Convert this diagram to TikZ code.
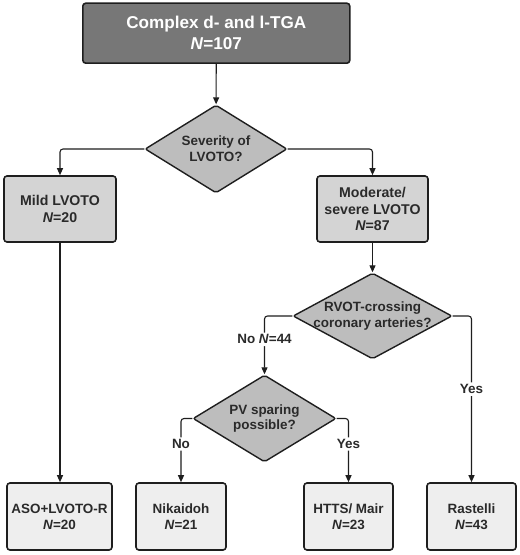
\documentclass[tikz,border=0pt]{standalone}
\usepackage{fontspec}
\setmainfont{Liberation Sans}
\usetikzlibrary{shapes.geometric,arrows.meta}
\definecolor{topfill}{HTML}{777777}
\definecolor{midfill}{HTML}{D4D4D4}
\definecolor{lowfill}{HTML}{EEEEEE}
\definecolor{diafill}{HTML}{BDBDBD}
\definecolor{txt}{HTML}{2A2A2A}
\definecolor{edge}{HTML}{1E1E1E}
\begin{document}
\begin{tikzpicture}[x=1bp,y=-1bp,
  base/.style={draw=edge,line width=1.6bp,rounded corners=3bp,align=center,inner sep=0pt,text=txt,font=\bfseries},
  topbox/.style={base,fill=topfill,text=white,font=\fontsize{17.2}{21}\selectfont\bfseries},
  midbox/.style={base,fill=midfill,font=\fontsize{14.2}{17}\selectfont\bfseries},
  lowbox/.style={base,fill=lowfill,font=\fontsize{13.5}{16}\selectfont\bfseries},
  dia/.style={diamond,draw=edge,line width=1.4bp,fill=diafill,inner sep=0pt,rounded corners=2bp},
  diatext/.style={align=center,text=txt,font=\fontsize{13.5}{16}\selectfont\bfseries,inner sep=0pt},
  lab/.style={fill=white,text=txt,font=\fontsize{13.5}{16}\selectfont\bfseries,inner sep=2pt},
  arr/.style={draw=edge,line width=1.1bp,rounded corners=3bp,-{Triangle[length=7bp,width=6bp]}}
]
\useasboundingbox (0,0) rectangle (520,555);
\fill[white] (0,0) rectangle (520,555);

\node[topbox,minimum width=267bp,minimum height=60bp] (top) at (216.3,33.2) {Complex d- and l-TGA\\\textit{N}=107};

\node[dia,minimum width=142bp,minimum height=88bp,
  label={[diatext]center:Severity of\\LVOTO?}] (d1) at (216,149) {};

\node[midbox,minimum width=112bp,minimum height=66bp] (mild) at (60,209) {Mild LVOTO\\\textit{N}=20};
\node[midbox,minimum width=111bp,minimum height=66bp] (mod) at (372.5,209) {Moderate/\\severe LVOTO\\\textit{N}=87};

\node[dia,minimum width=159bp,minimum height=86bp,
  label={[diatext]center:RVOT-crossing\\coronary arteries?}] (d2) at (372.5,316) {};

\node[dia,minimum width=143bp,minimum height=87bp,
  label={[diatext]center:PV sparing\\possible?}] (d3) at (264.5,418.5) {};

\node[lowbox,minimum width=105bp,minimum height=67bp] (aso) at (59.5,516.5) {ASO+LVOTO-R\\\textit{N}=20};
\node[lowbox,minimum width=90bp,minimum height=67bp] (nik) at (181,516.5) {Nikaidoh\\\textit{N}=21};
\node[lowbox,minimum width=89bp,minimum height=67bp] (htts) at (348.5,516.5) {HTTS/ Mair\\\textit{N}=23};
\node[lowbox,minimum width=89bp,minimum height=67bp] (rast) at (471.5,516.5) {Rastelli\\\textit{N}=43};

\draw[arr] (top) -- (d1);
\draw[arr] (d1.west) -| (mild.north);
\draw[arr] (d1.east) -| (mod.north);
\draw[arr] (mild.south) -- (mild.south |- aso.north);
\draw[arr] (mod) -- (d2);
\draw[arr] (d2.west) -| node[lab,pos=0.70] {No \textit{N}=44} (d3.north);
\draw[arr] (d2.east) -| node[lab,pos=0.72] {Yes} (rast.north);
\draw[arr] (d3.west) -| node[lab,pos=0.70] {No} (nik.north);
\draw[arr] (d3.east) -| node[lab,pos=0.70] {Yes} (htts.north);
\end{tikzpicture}
\end{document}
